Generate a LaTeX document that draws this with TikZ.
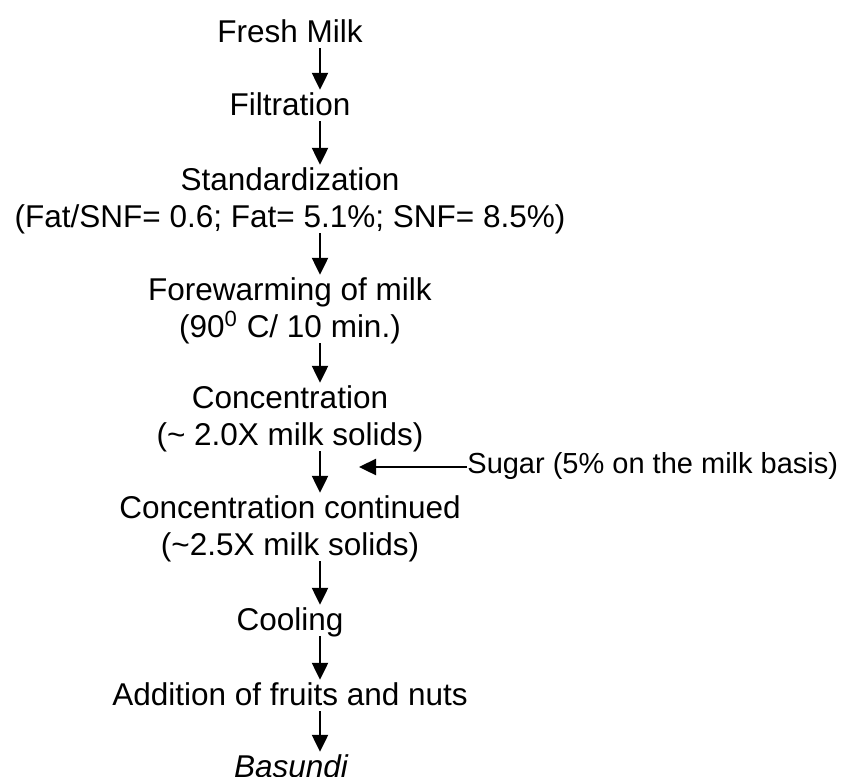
\documentclass[tikz,border=0pt]{standalone}
\usepackage{fontspec}
\setmainfont{Liberation Sans}
\usetikzlibrary{arrows.meta,positioning}
\tikzset{
  stage/.style={
    align=center,
    inner sep=0pt,
    text depth=0.3em,
    anchor=base,
    font=\fontsize{15.75}{18.5}\selectfont
  },
  arrow/.style={-{Triangle[length=8.5pt,width=8pt]}, line width=1.2pt, shorten >=1pt}
}

\begin{document}
\begin{tikzpicture}[x=0.5pt,y=-0.5pt]
  \useasboundingbox (0,0) rectangle (845,776);
  \coordinate (spine) at (320,0);
  % base anchor = baseline of the last line
  \node[stage] (milk) at (290,42) {Fresh Milk};
  \node[stage] (filter) at (290,115) {Filtration};
  \node[stage] (standard) at (290,227) {Standardization\\(Fat/SNF= 0.6; Fat= 5.1\%; SNF= 8.5\%)};
  \node[stage] (forewarm) at (290,337) {Forewarming of milk\\(90\textsuperscript{0} C/ 10 min.)};
  \node[stage] (conc) at (290,445) {Concentration\\(\textasciitilde{} 2.0X milk solids)};
  \node[stage] (contd) at (290,555) {Concentration continued\\(\textasciitilde2.5X milk solids)};
  \node[stage] (cool) at (290,630) {Cooling};
  \node[stage] (fruits) at (290,705) {Addition of fruits and nuts};
  \node[stage, font=\fontsize{15.75}{18.5}\selectfont\itshape] (basundi) at (291,777) {Basundi};
  \node[stage, anchor=base west, text depth=0pt, font=\fontsize{14.5}{17}\selectfont] (sugar) at (467,473) {Sugar (5\% on the milk basis)};
  \coordinate (sugartip) at (359,467);

  \draw[arrow] (milk.south -| spine) -- (filter.north -| spine);
  \draw[arrow] (filter.south -| spine) -- (standard.north -| spine);
  \draw[arrow] (standard.south -| spine) -- (forewarm.north -| spine);
  \draw[arrow] (forewarm.south -| spine) -- (conc.north -| spine);
  \draw[arrow] (conc.south -| spine) -- (contd.north -| spine);
  \draw[arrow] (contd.south -| spine) -- (cool.north -| spine);
  \draw[arrow] (cool.south -| spine) -- (fruits.north -| spine);
  \draw[arrow] (fruits.south -| spine) -- (basundi.north -| spine);
  \draw[arrow, shorten >=0pt] (sugar.west |- sugartip) -- (sugartip);
\end{tikzpicture}
\end{document}
